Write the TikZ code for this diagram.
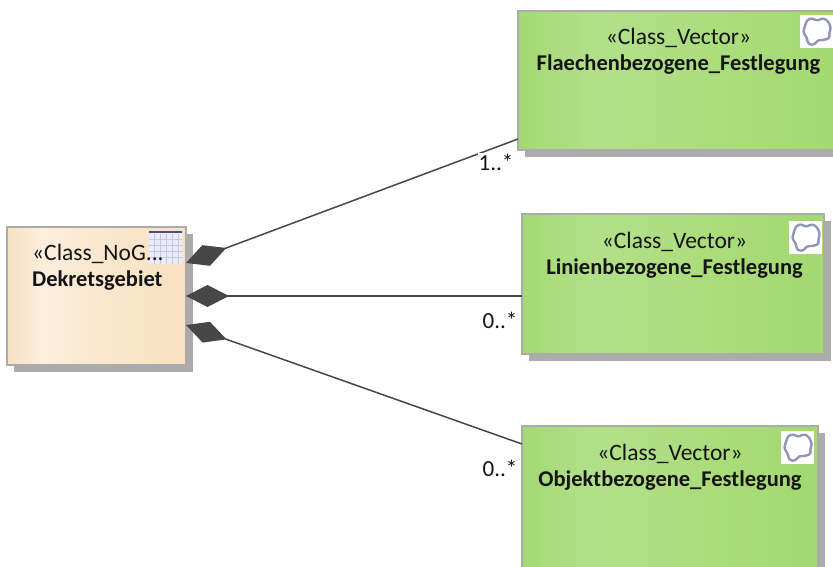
\documentclass[tikz,border=0pt]{standalone}
\usepackage{fontspec}
\setmainfont{Carlito}
\usetikzlibrary{arrows.meta,shadows}
\pgfdeclarehorizontalshading{greenh}{100bp}{rgb(0bp)=(.64,.85,.45);rgb(25bp)=(.64,.85,.45);rgb(37bp)=(.70,.88,.54);rgb(50bp)=(.68,.87,.50);rgb(75bp)=(.64,.85,.44);rgb(100bp)=(.64,.85,.44)}
\pgfdeclarehorizontalshading{orangeh}{100bp}{rgb(0bp)=(.97,.88,.76);rgb(25bp)=(.97,.88,.76);rgb(35bp)=(.985,.935,.87);rgb(50bp)=(.98,.91,.81);rgb(75bp)=(.97,.88,.75);rgb(100bp)=(.97,.88,.75)}
\newcommand{\stereo}[1]{{\fontsize{23.5}{26}\selectfont #1}}
\tikzset{
  classbox/.style={draw=black!33,line width=1.8pt,inner sep=0pt,outer sep=0pt,anchor=north west,
    general shadow={fill=black!33,shadow xshift=6.5pt,shadow yshift=-6.5pt}},
  greenbox/.style={classbox,shading=greenh},
  orangebox/.style={classbox,shading=orangeh},
  boxtext/.style={font=\fontsize{22.5}{26}\selectfont,align=center,inner sep=0pt,text=black!92},
  multlabel/.style={font=\fontsize{23}{24}\selectfont,fill=white,inner sep=1pt,text=black!92},
  comp/.style={draw=black!72,line width=1.5pt,-{Kite[length=43pt,width=22pt,inset=21.5pt,fill=black!72,line width=0pt]}},
  pics/blob/.style={code={
    \fill[white] (0,0) rectangle (33,33);
    \draw[draw=blue!35!black!42,line width=2.4pt,line join=round,rounded corners=2.5pt]
      (7,5) -- (12,3) -- (17,6) -- (23,3) -- (28,6) -- (31,13) -- (29,19) -- (30,23) -- (24,25) -- (18,25) -- (14,30) -- (8,29) -- (7,23) -- (3,17) -- (5,11) -- cycle;
  }}
}
\begin{document}
\begin{tikzpicture}[x=1pt,y=-1pt]
\useasboundingbox (0,0) rectangle (833,566);
\clip (0,0) rectangle (833,566);
% class boxes
\node[orangebox,minimum width=179pt,minimum height=138pt] (dekret) at (7,227) {};
\node[greenbox,minimum width=330pt,minimum height=139pt] (flaeche) at (518,11) {};
\node[greenbox,minimum width=302pt,minimum height=140pt] (linie) at (522,214) {};
\node[greenbox,minimum width=296pt,minimum height=160pt] (objekt) at (522,426) {};
% connector end points
\coordinate (d1) at (186,263);
\coordinate (d2) at (186,296);
\coordinate (d3) at (186,325);
\coordinate (f1) at (518,139);
\coordinate (l1) at (522,296);
\coordinate (o1) at (522,444);
\draw[comp] (f1) -- (d1);
\draw[comp] (l1) -- (d2);
\draw[comp] (o1) -- (d3);
% icons
\pic at (800,15) {blob};
\pic at (789,221) {blob};
\pic at (781,431) {blob};
\fill[blue!8!white] (149,231) rectangle (182,264);
\foreach \p in {154,160,166,172,178}{\draw[blue!30!black!22,line width=.6pt] (\p,234) -- (\p,264);}
\foreach \p in {239,245,251,257}{\draw[blue!30!black!22,line width=.6pt] (149,\p) -- (182,\p);}
\fill[blue!30!black!70] (149,231) rectangle (182,233);
% texts
\node[boxtext,align=left,anchor=west] (dektext) at (32,267) {\stereo{«Class\_NoG...}\\\textbf{Dekretsgebiet}};
\node[boxtext] (ftext) at (678.5,51.5) {\stereo{«Class\_Vector»}\\\textbf{Flaechenbezogene\_Festlegung}};
\node[boxtext] (ltext) at (674.5,255.5) {\stereo{«Class\_Vector»}\\\textbf{Linienbezogene\_Festlegung}};
\node[boxtext] (otext) at (670,467.5) {\stereo{«Class\_Vector»}\\\textbf{Objektbezogene\_Festlegung}};
\node[multlabel] (m1) at (496,162.5) {1..*};
\node[multlabel] (m2) at (500,320) {0..*};
\node[multlabel] (m3) at (500,468.5) {0..*};
\end{tikzpicture}
\end{document}
